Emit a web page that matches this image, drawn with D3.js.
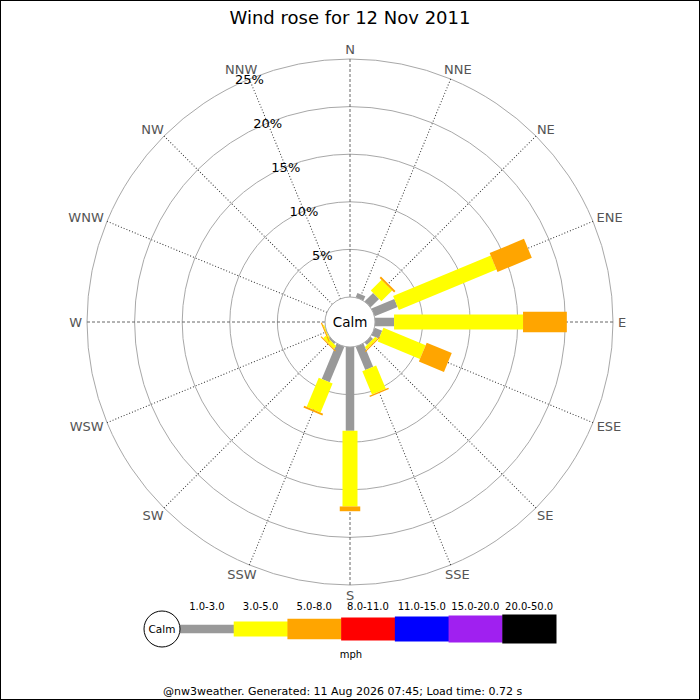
<!DOCTYPE html>
<html>
<head>
<meta charset="utf-8">
<script src="https://cdn.jsdelivr.net/npm/d3@7"></script>
<style>
  html, body { margin: 0; padding: 0; background: #fff; }
  svg { display: block; font-family: "DejaVu Sans", sans-serif; }
</style>
</head>
<body>
<svg id="chart" width="700" height="700"></svg>
<script>
// ---- data ----
const directions = ["N","NNE","NE","ENE","E","ESE","SE","SSE","S","SSW","SW","WSW","W","WNW","NW","NNW"];
const speedClasses = ["1.0-3.0","3.0-5.0","5.0-8.0","8.0-11.0","11.0-15.0","15.0-20.0","20.0-50.0"];
const classColors = ["#999999","#ffff00","#ffa500","#ff0000","#0000ff","#a020f0","#000000"];
// percentage of time per direction, per speed class (1-3, 3-5, 5-8 mph)
const gray1to3   = [0, 0.5, 1.25, 2.6, 2.0, 0.85, 0.35, 2.65, 8.8, 4.05, 0.2, 0, 0, 0, 0, 0];
const yellow3to5 = [0, 0, 1.6, 11.1, 13.55, 4.8, 0.3, 2.65, 7.95, 3.3, 0.35, 0.12, 0, 0, 0, 0];
const orange5to8 = [0, 0, 0.2, 3.9, 4.6, 2.85, 0.12, 0.15, 0.5, 0.2, 0.12, 0.12, 0, 0, 0, 0];
const ringTicks = [5, 10, 15, 20, 25];
const titleText = "Wind rose for 12 Nov 2011";
const footerText = "@nw3weather. Generated: 11 Aug 2026 07:45; Load time: 0.72 s";

// ---- layout ----
const svg = d3.select("#chart");
const cx = 350, cy = 322;
const calmR = 25, outerR = 263;
const barWidths = [8.5, 15, 20.5, 23, 25, 27, 29];

svg.append("rect").attr("x", 0.5).attr("y", 0.5).attr("width", 699).attr("height", 699)
  .attr("fill", "#fff").attr("stroke", "#000");

const r = d3.scaleLinear().domain([0, 25]).range([calmR, outerR]);
const ang = d3.scalePoint().domain(directions).range([0, 360 - 22.5]);

const g = svg.append("g").attr("transform", `translate(${cx},${cy})`);

// rings
g.selectAll("circle.ring").data(ringTicks).join("circle")
  .attr("class", "ring").attr("r", d => r(d))
  .attr("fill", "none").attr("stroke", "#a8a8a8").attr("stroke-width", 1);

// spokes
g.selectAll("line.spoke").data(directions).join("line")
  .attr("class", "spoke")
  .attr("transform", d => `rotate(${ang(d)})`)
  .attr("x1", 0).attr("y1", -calmR).attr("x2", 0).attr("y2", -outerR)
  .attr("stroke", (d, i) => i % 4 === 0 ? "#666" : "#333")
  .attr("stroke-width", 1)
  .attr("stroke-dasharray", (d, i) => i % 4 === 0 ? "3,2" : "1,2");

// bars
const rows = directions.map((d, i) => ({dir: d, c0: gray1to3[i], c1: yellow3to5[i], c2: orange5to8[i]}));
const stack = d3.stack().keys(["c0", "c1", "c2"]);
const series = stack(rows);
series.forEach((s, k) => {
  g.append("g").selectAll("rect").data(s.filter(p => p[1] - p[0] > 0)).join("rect")
    .attr("transform", p => `rotate(${ang(p.data.dir)})`)
    .attr("x", -barWidths[k] / 2)
    .attr("width", barWidths[k])
    .attr("y", p => -r(p[1]))
    .attr("height", p => r(p[1]) - r(p[0]))
    .attr("fill", classColors[k]);
});

// calm circle
g.append("circle").attr("r", calmR).attr("fill", "#fff").attr("stroke", "#a8a8a8");
g.append("text").attr("x", 0).attr("y", 0).attr("dy", "0.36em")
  .attr("text-anchor", "middle").attr("font-size", 13.5).attr("fill", "#000").text("Calm");

// direction labels: anchored outside the ring, pushed out by half the text box
const labR = 268;
g.selectAll("text.dir").data(directions).join("text")
  .attr("class", "dir")
  .attr("text-anchor", "middle").attr("font-size", 13).attr("fill", "#555")
  .attr("dy", "0.36em")
  .text(d => d)
  .each(function(d) {
    const a = ang(d) * Math.PI / 180;
    const w = this.getComputedTextLength();
    const h = 10;
    const x = labR * Math.sin(a) + (w / 2) * Math.sin(a);
    const y = -labR * Math.cos(a) - (h / 2) * Math.cos(a);
    d3.select(this).attr("x", x).attr("y", y);
  });

// percent labels along NNW spoke
const pa = ang("NNW") * Math.PI / 180;
g.selectAll("text.pct").data(ringTicks).join("text")
  .attr("class", "pct")
  .attr("x", d => r(d) * Math.sin(pa))
  .attr("y", d => -r(d) * Math.cos(pa))
  .attr("dy", "0.36em")
  .attr("text-anchor", "middle").attr("font-size", 13).attr("fill", "#000")
  .text(d => d + "%");

// title
svg.append("text").attr("x", 350).attr("y", 24).attr("text-anchor", "middle")
  .attr("font-size", 18).attr("fill", "#000").text(titleText);

// legend
const lx = d3.scaleBand().domain(speedClasses).range([180, 556]);
const ly = 629;
const leg = svg.append("g");
leg.selectAll("rect").data(speedClasses).join("rect")
  .attr("x", d => lx(d)).attr("width", lx.bandwidth() + 0.5)
  .attr("y", (d, i) => ly - barWidths[i] / 2)
  .attr("height", (d, i) => barWidths[i])
  .attr("fill", (d, i) => classColors[i]);
leg.selectAll("text").data(speedClasses).join("text")
  .attr("x", d => lx(d) + lx.bandwidth() / 2).attr("y", 610)
  .attr("text-anchor", "middle").attr("font-size", 10).attr("fill", "#000")
  .text(d => d);
leg.append("circle").attr("cx", 162).attr("cy", ly).attr("r", 18)
  .attr("fill", "#fff").attr("stroke", "#000");
leg.append("text").attr("x", 162).attr("y", ly).attr("dy", "0.35em")
  .attr("text-anchor", "middle").attr("font-size", 10.5).attr("fill", "#000").text("Calm");
leg.append("text").attr("x", 351).attr("y", 658).attr("text-anchor", "middle")
  .attr("font-size", 10).attr("fill", "#000").text("mph");

// footer
svg.append("text").attr("x", 163).attr("y", 695).attr("text-anchor", "start")
  .attr("font-size", 11).attr("fill", "#000").text(footerText);
</script>
</body>
</html>
